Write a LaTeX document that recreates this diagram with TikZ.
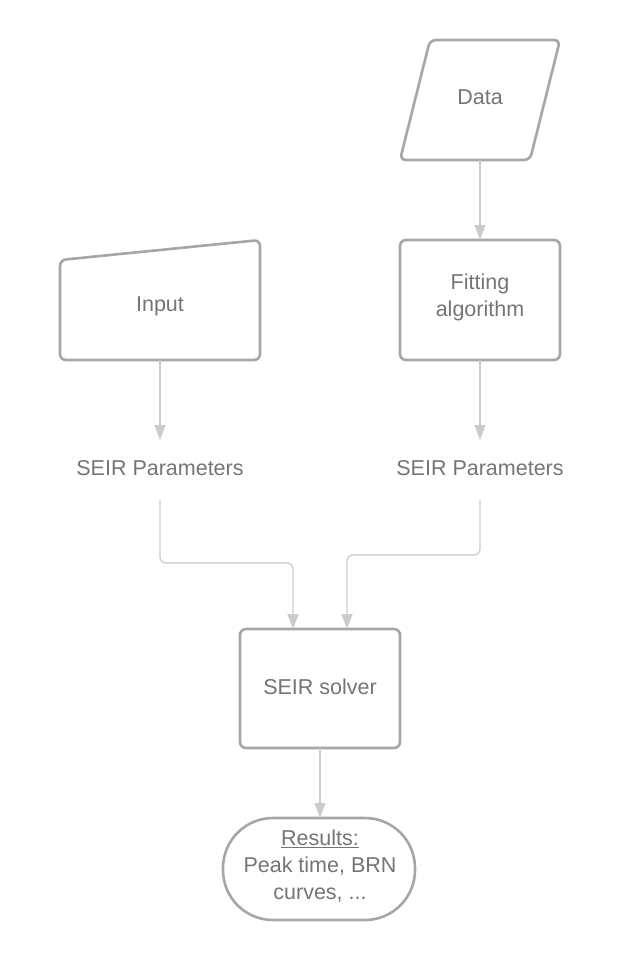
\documentclass[tikz,border=0pt]{standalone}
\usepackage{fontspec}
\setmainfont{Liberation Sans}
\usetikzlibrary{arrows.meta}
\definecolor{bord}{HTML}{A6A6A6}
\definecolor{conn}{HTML}{CCCCCC}
\definecolor{txt}{HTML}{757575}
\begin{document}
\begin{tikzpicture}[x=1pt,y=-1pt,
  shp/.style={draw=bord,line width=2.6pt,rounded corners=6pt,fill=white},
  lbl/.style={text=txt,font=\fontsize{21.5}{27}\selectfont,align=center,inner sep=0pt},
  con/.style={draw=conn,line width=1.3pt,rounded corners=6pt,-{Triangle[length=15pt,width=11pt]}}]
\useasboundingbox (0,0) rectangle (640,960);
\draw[shp] (430,40) -- (560,40) -- (530,160) -- (400,160) -- cycle;
\node[lbl] (data) at (480,97) {Data};
\draw[shp] (400,240) rectangle (560,360);
\node[lbl] (fit) at (480,297) {Fitting\\algorithm};
\draw[shp] (60,260) -- (260,240) -- (260,360) -- (60,360) -- cycle;
\node[lbl] (inp) at (160,306) {Input};
\node[lbl] (p1) at (160,468) {SEIR Parameters};
\node[lbl] (p2) at (480,468) {SEIR Parameters};
\draw[shp] (240,629) rectangle (400,748);
\node[lbl] (sol) at (320,687) {SEIR solver};
\draw[shp,rounded corners=50pt] (223,818) rectangle (415,920);
\node[lbl] (res) at (320,866) {\underline{Results:}\\Peak time, BRN\\curves, ...};
\coordinate (a1) at (480,160); \coordinate (a2) at (480,240);
\draw[con] (a1) -- (a2);
\coordinate (b1) at (160,360); \coordinate (b2) at (160,440);
\draw[con] (b1) -- (b2);
\coordinate (c1) at (480,360); \coordinate (c2) at (480,440);
\draw[con] (c1) -- (c2);
\coordinate (d1) at (160,500); \coordinate (d2) at (293,629);
\draw[con] (d1) |- (220,563) -| (d2);
\coordinate (e1) at (480,500); \coordinate (e2) at (347,629);
\draw[con] (e1) |- (420,555) -| (e2);
\coordinate (f1) at (320,748); \coordinate (f2) at (320,818);
\draw[con] (f1) -- (f2);
\end{tikzpicture}
\end{document}
